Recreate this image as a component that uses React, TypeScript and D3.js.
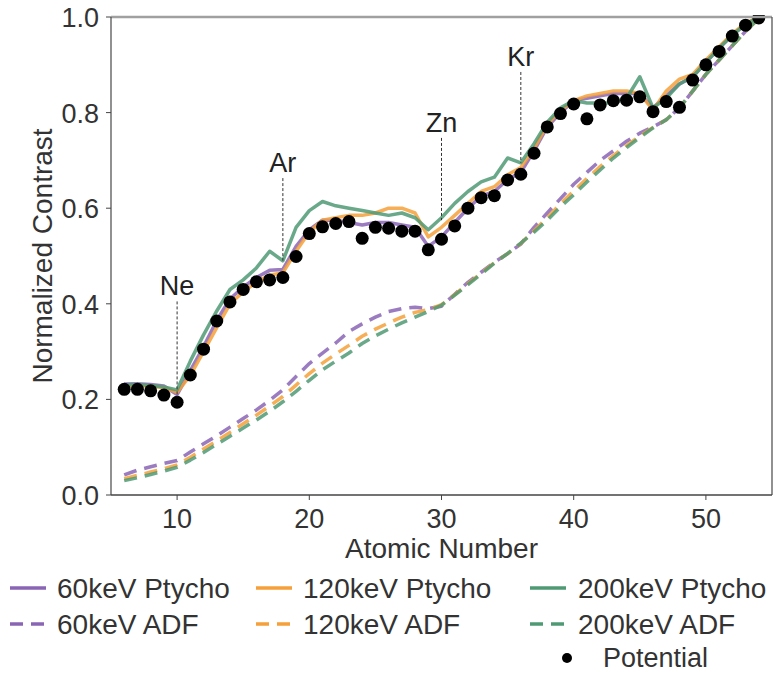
import React from "react";
import * as d3 from "d3";

const atomicNumbers = [6,7,8,9,10,11,12,13,14,15,16,17,18,19,20,21,22,23,24,25,26,27,28,29,30,31,32,33,34,35,36,37,38,39,40,41,42,43,44,45,46,47,48,49,50,51,52,53,54];

const potential = [0.221,0.221,0.218,0.209,0.194,0.251,0.305,0.364,0.404,0.430,0.446,0.450,0.455,0.499,0.547,0.561,0.568,0.572,0.537,0.560,0.558,0.552,0.552,0.513,0.535,0.563,0.600,0.622,0.626,0.659,0.671,0.715,0.770,0.798,0.818,0.787,0.816,0.825,0.826,0.833,0.802,0.823,0.811,0.868,0.900,0.928,0.960,0.983,0.998];

const ptycho60 = [0.232,0.233,0.231,0.228,0.210,0.260,0.310,0.365,0.410,0.435,0.455,0.470,0.472,0.520,0.555,0.575,0.575,0.570,0.565,0.570,0.570,0.565,0.560,0.520,0.540,0.570,0.600,0.625,0.635,0.660,0.675,0.720,0.770,0.800,0.825,0.830,0.835,0.840,0.840,0.840,0.810,0.835,0.860,0.875,0.905,0.935,0.962,0.985,1.0];
const ptycho120 = [0.228,0.229,0.227,0.225,0.215,0.250,0.300,0.350,0.400,0.425,0.445,0.460,0.465,0.510,0.550,0.575,0.580,0.585,0.585,0.590,0.600,0.600,0.590,0.540,0.560,0.585,0.610,0.635,0.645,0.670,0.685,0.725,0.775,0.805,0.825,0.835,0.840,0.845,0.845,0.840,0.805,0.845,0.870,0.880,0.910,0.938,0.965,0.987,1.0];
const ptycho200 = [0.230,0.231,0.229,0.226,0.220,0.280,0.335,0.385,0.430,0.450,0.475,0.510,0.490,0.560,0.595,0.614,0.605,0.600,0.595,0.590,0.585,0.590,0.580,0.555,0.580,0.610,0.635,0.655,0.665,0.705,0.695,0.735,0.780,0.810,0.825,0.820,0.820,0.820,0.830,0.875,0.810,0.830,0.860,0.875,0.905,0.935,0.962,0.985,1.0];

const adf60 = [0.042,0.052,0.059,0.066,0.072,0.090,0.107,0.124,0.142,0.160,0.178,0.198,0.220,0.248,0.275,0.297,0.318,0.342,0.358,0.372,0.384,0.390,0.393,0.390,0.395,0.420,0.445,0.466,0.487,0.505,0.525,0.560,0.590,0.620,0.650,0.675,0.700,0.720,0.740,0.757,0.770,0.785,0.810,0.845,0.880,0.910,0.940,0.970,0.997];
const adf120 = [0.034,0.041,0.048,0.055,0.063,0.079,0.096,0.113,0.131,0.149,0.167,0.186,0.206,0.230,0.254,0.276,0.295,0.313,0.332,0.347,0.360,0.372,0.382,0.388,0.398,0.419,0.442,0.464,0.486,0.505,0.526,0.553,0.580,0.609,0.636,0.662,0.687,0.710,0.731,0.751,0.769,0.785,0.810,0.845,0.880,0.910,0.940,0.970,0.997];
const adf200 = [0.030,0.036,0.043,0.050,0.058,0.073,0.089,0.106,0.123,0.140,0.157,0.175,0.195,0.217,0.240,0.262,0.280,0.297,0.317,0.333,0.347,0.360,0.372,0.384,0.397,0.418,0.440,0.462,0.485,0.505,0.527,0.550,0.575,0.603,0.628,0.655,0.680,0.705,0.727,0.748,0.768,0.785,0.810,0.845,0.880,0.910,0.940,0.970,0.997];

const xTicks = [10, 20, 30, 40, 50];
const yTicks = [0, 0.2, 0.4, 0.6, 0.8, 1.0];

const annElements = ["Ne", "Ar", "Zn", "Kr"];
const annZ = [10, 18, 30, 36];
const annBottom = [0.205, 0.49, 0.575, 0.695];
const annTop = [0.405, 0.663, 0.747, 0.885];

const seriesNames = ["60keV Ptycho", "60keV ADF", "120keV Ptycho", "120keV ADF", "200keV Ptycho", "200keV ADF"];
const seriesColors = ["#8a65b5", "#8a65b5", "#f5a03a", "#f5a03a", "#4f9a74", "#4f9a74"];
const seriesDashed = [false, true, false, true, false, true];
const seriesData = [ptycho60, adf60, ptycho120, adf120, ptycho200, adf200];

const FONT = "'Liberation Sans', Arial, sans-serif";

export default function App() {
  const width = 773;
  const height = 675;
  const left = 111, right = 772, top = 17, bottom = 495;
  const x = d3.scaleLinear().domain([5, 55]).range([left, right]);
  const y = d3.scaleLinear().domain([0, 1]).range([bottom, top]);

  const line = (vals: number[]) =>
    d3.line<number>().x((_, i) => x(atomicNumbers[i])).y((v) => y(v))(vals) || "";

  const legendHandleX = [10, 256, 530];
  const legendTextX = [57, 303, 578];
  const legendRows = [588, 624, 658];
  const fs = 27;
  const lfs = 28;

  return (
    <svg width={width} height={height} style={{ position: "absolute", left: 0, top: 0, background: "#fff" }} fontFamily={FONT}>
      <defs>
        <clipPath id="plotclip">
          <rect x={left} y={top - 2} width={right - left} height={bottom - top + 2} />
        </clipPath>
      </defs>
      <rect x={0} y={0} width={width} height={height} fill="#fff" />
      <g clipPath="url(#plotclip)">
        {seriesData.map((vals, i) => (
          <path
            key={i}
            d={line(vals)}
            fill="none"
            stroke={seriesColors[i]}
            strokeWidth={3.5}
            strokeOpacity={0.85}
            strokeDasharray={seriesDashed[i] ? "13 8" : undefined}
            strokeLinejoin="round"
          />
        ))}
        {potential.map((v, i) => (
          <circle key={i} cx={x(atomicNumbers[i])} cy={y(v)} r={6.5} fill="#000" />
        ))}
      </g>
      {annElements.map((el, i) => (
        <g key={el}>
          <line x1={x(annZ[i])} x2={x(annZ[i])} y1={y(annTop[i])} y2={y(annBottom[i])} stroke="#333" strokeWidth={1} strokeDasharray="3 2" />
          <text x={x(annZ[i])} y={y(annTop[i]) - 6} textAnchor="middle" fontSize={fs} fill="#222">{el}</text>
        </g>
      ))}
      <line x1={left} x2={right} y1={top} y2={top} stroke="#a0a0a0" strokeWidth={2.5} />
      <line x1={left} x2={left} y1={top} y2={bottom} stroke="#555" strokeWidth={1.3} />
      <line x1={right} x2={right} y1={top} y2={bottom} stroke="#555" strokeWidth={1.3} />
      <line x1={left} x2={right} y1={bottom} y2={bottom} stroke="#444" strokeWidth={1.3} />
      {yTicks.map((t) => (
        <g key={t}>
          <line x1={left - 5} x2={left} y1={y(t)} y2={y(t)} stroke="#444" strokeWidth={1} />
          <text x={left - 12} y={y(t) + 10} textAnchor="end" fontSize={fs} fill="#333">{t.toFixed(1)}</text>
        </g>
      ))}
      {xTicks.map((t) => (
        <g key={t}>
          <line x1={x(t)} x2={x(t)} y1={bottom} y2={bottom + 5} stroke="#444" strokeWidth={1} />
          <text x={x(t)} y={bottom + 33} textAnchor="middle" fontSize={fs} fill="#333">{t}</text>
        </g>
      ))}
      <text x={(left + right) / 2} y={558} textAnchor="middle" fontSize={28} fill="#333">Atomic Number</text>
      <text transform={`translate(52, ${(top + bottom) / 2}) rotate(-90)`} textAnchor="middle" fontSize={28} fill="#333">Normalized Contrast</text>
      {seriesNames.map((name, i) => {
        const col = Math.floor(i / 2);
        const row = i % 2;
        const lx = legendHandleX[col];
        const ly = legendRows[row];
        return (
          <g key={name}>
            <line x1={lx} x2={lx + 36} y1={ly} y2={ly} stroke={seriesColors[i]} strokeWidth={3.5} strokeDasharray={seriesDashed[i] ? "13 8" : undefined} />
            <text x={legendTextX[col]} y={ly + 10} fontSize={lfs} fill="#333">{name}</text>
          </g>
        );
      })}
      <circle cx={567} cy={legendRows[2]} r={5} fill="#000" />
      <text x={603} y={legendRows[2] + 9} fontSize={lfs - 1} fill="#333">Potential</text>
    </svg>
  );
}
